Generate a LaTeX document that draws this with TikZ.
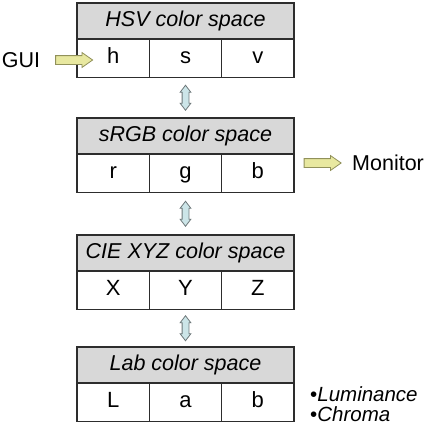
\documentclass[tikz,border=0pt]{standalone}
\usepackage{fontspec}
\setmainfont{Liberation Sans}
\usetikzlibrary{shapes.arrows}
\definecolor{hdrgray}{RGB}{216,216,216}
\definecolor{linegray}{RGB}{45,45,45}
\definecolor{outfill}{RGB}{232,232,160}
\definecolor{outedge}{RGB}{145,145,90}
\definecolor{linkfill}{RGB}{204,229,232}
\definecolor{linkedge}{RGB}{110,120,122}
\tikzset{
  header/.style={draw=linegray, line width=1.2pt, fill=hdrgray, inner sep=0pt,
    minimum width=217pt, minimum height=36pt, text height=15.5pt, text depth=4.5pt,
    font=\fontsize{21.5}{24}\selectfont\itshape},
  cell/.style={draw=linegray, line width=1.2pt, fill=white, inner sep=0pt,
    minimum width=72.33pt, minimum height=38.5pt, text height=15.5pt, text depth=4.5pt,
    font=\fontsize{22}{24}\selectfont},
  sidetext/.style={inner sep=0pt, font=\fontsize{21.5}{24}\selectfont},
  bullettext/.style={inner sep=0pt, anchor=base west, text height=15pt, text depth=0.5pt,
    font=\fontsize{20.5}{22}\selectfont},
  outarrow/.style={single arrow, draw=outedge, fill=outfill, line width=0.8pt,
    inner sep=4pt, minimum height=37pt, minimum width=14pt,
    single arrow head extend=3pt, single arrow tip angle=70},
  updown/.style={double arrow, draw=linkedge, fill=linkfill, line width=0.8pt,
    inner sep=3pt, minimum height=25pt, minimum width=10pt, rotate=90,
    double arrow head extend=2pt, double arrow tip angle=75}
}
\begin{document}
\begin{tikzpicture}[x=1pt,y=-1pt]
  \useasboundingbox (0,0) rectangle (434,426);
  % HSV
  \node[header] (hsv) at (185.5,21) {HSV color space};
  \node[cell] (hsvH) at (113.2,58.25) {h};
  \node[cell] (hsvS) at (185.5,58.25) {s};
  \node[cell] (hsvV) at (257.8,58.25) {v};
  % sRGB
  \node[header] (rgb) at (185.5,136) {sRGB color space};
  \node[cell] (rgbR) at (113.2,173.25) {r};
  \node[cell] (rgbG) at (185.5,173.25) {g};
  \node[cell] (rgbB) at (257.8,173.25) {b};
  % CIE XYZ
  \node[header] (xyz) at (185.5,253) {CIE XYZ color space};
  \node[cell] (xyzX) at (113.2,290.25) {X};
  \node[cell] (xyzY) at (185.5,290.25) {Y};
  \node[cell] (xyzZ) at (257.8,290.25) {Z};
  % Lab
  \node[header] (lab) at (185.5,365) {Lab color space};
  \node[cell] (labL) at (113.2,402.25) {L};
  \node[cell] (labA) at (185.5,402.25) {a};
  \node[cell] (labB) at (257.8,402.25) {b};
  % links between spaces
  \path (hsvS.south) -- node[updown] (link1) {} (rgb.north);
  \path (rgbG.south) -- node[updown] (link2) {} (xyz.north);
  \path (xyzY.south) -- node[updown] (link3) {} (lab.north);
  % in and out
  \node[sidetext] (gui) at (21,60) {GUI};
  \node[outarrow] (guiarrow) at (71,60) {};
  \node[outarrow] (monarrow) at (319.5,163) {};
  \node[sidetext,anchor=west] (monitor) at (352,163) {Monitor};
  \node[bullettext] (lum) at (310,401) {•\textit{Luminance}};
  \node[bullettext] (chroma) at (310,421.5) {•\textit{Chroma}};
\end{tikzpicture}
\end{document}
